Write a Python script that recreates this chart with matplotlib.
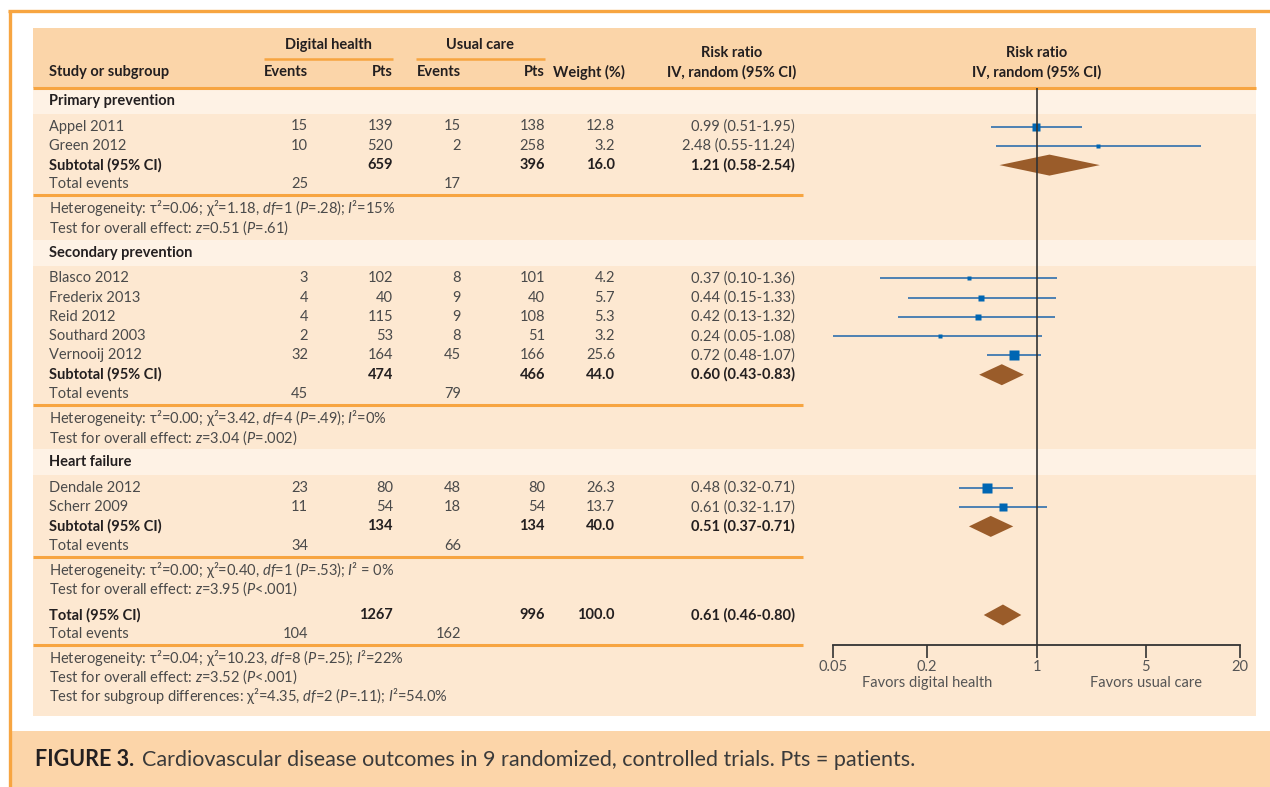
import matplotlib
matplotlib.use("Agg")
import matplotlib.pyplot as plt
from matplotlib.patches import Rectangle, Polygon
from matplotlib.ticker import NullLocator

plt.rcParams['font.family'] = ['Lato', 'DejaVu Sans']
plt.rcParams['mathtext.fontset'] = 'custom'
plt.rcParams['mathtext.rm'] = 'Lato'
plt.rcParams['mathtext.it'] = 'Lato:italic'
plt.rcParams['mathtext.bf'] = 'Lato:bold'

# ---- study level data ----
studies = ["Appel 2011", "Green 2012",
           "Blasco 2012", "Frederix 2013", "Reid 2012", "Southard 2003", "Vernooij 2012",
           "Dendale 2012", "Scherr 2009"]
dh_events = [15, 10, 3, 4, 4, 2, 32, 23, 11]
dh_pts = [139, 520, 102, 40, 115, 53, 164, 80, 54]
uc_events = [15, 2, 8, 9, 9, 8, 45, 48, 18]
uc_pts = [138, 258, 101, 40, 108, 51, 166, 80, 54]
weights = [12.8, 3.2, 4.2, 5.7, 5.3, 3.2, 25.6, 26.3, 13.7]
rr = [0.99, 2.48, 0.37, 0.44, 0.42, 0.24, 0.72, 0.48, 0.61]
rr_lo = [0.51, 0.55, 0.10, 0.15, 0.13, 0.05, 0.48, 0.32, 0.32]
rr_hi = [1.95, 11.24, 1.36, 1.33, 1.32, 1.08, 1.07, 0.71, 1.17]

# ---- subgroup data ----
groups = ["Primary prevention", "Secondary prevention", "Heart failure"]
group_sizes = [2, 5, 2]
sub_dh_pts = [659, 474, 134]
sub_uc_pts = [396, 466, 134]
sub_weight = [16.0, 44.0, 40.0]
sub_rr = [1.21, 0.60, 0.51]
sub_lo = [0.58, 0.43, 0.37]
sub_hi = [2.54, 0.83, 0.71]
sub_dh_events = [25, 45, 34]
sub_uc_events = [17, 79, 66]
het_text = [
    "Heterogeneity: τ²=0.06; χ²=1.18, $df$=1 ($P$=.28); $I$²=15%",
    "Heterogeneity: τ²=0.00; χ²=3.42, $df$=4 ($P$=.49); $I$²=0%",
    "Heterogeneity: τ²=0.00; χ²=0.40, $df$=1 ($P$=.53); $I$² = 0%",
]
effect_text = [
    "Test for overall effect: $z$=0.51 ($P$=.61)",
    "Test for overall effect: $z$=3.04 ($P$=.002)",
    "Test for overall effect: $z$=3.95 ($P$<.001)",
]

# ---- overall ----
tot_dh_pts, tot_uc_pts, tot_weight = 1267, 996, 100.0
tot_rr, tot_lo, tot_hi = 0.61, 0.46, 0.80
tot_dh_events, tot_uc_events = 104, 162
tot_notes = [
    "Heterogeneity: τ²=0.04; χ²=10.23, $df$=8 ($P$=.25); $I$²=22%",
    "Test for overall effect: $z$=3.52 ($P$<.001)",
    "Test for subgroup differences: χ²=4.35, $df$=2 ($P$=.11); $I$²=54.0%",
]

x_ticks = [0.05, 0.2, 1, 5, 20]
x_ticklabels = ["0.05", "0.2", "1", "5", "20"]

# ---- styling ----
ORANGE = '#f7a541'
HEAD_BG = '#fbd5a9'
BAND_BG = '#fef2e5'
ROW_BG = '#fde8d1'
CAPTION_BG = '#fcd5a9'
BLUE = '#0066b3'
CI_BLUE = '#2f6fae'
BROWN = '#9a5c2a'
TXT = '#4a4a4a'
DARK = '#231f20'
FS = 10.5

W, H = 1270, 787
PANEL_L, PANEL_R = 33, 1256
HEAD_TOP, HEAD_BOT = 28, 88
STEP = 19.3
COL_STUDY, COL_DHE, COL_DHP, COL_UCE, COL_UCP, COL_W, COL_RR = 49, 308, 393, 461, 545, 615, 795
LINE_R = 803
PLOT_L, PLOT_R = 833, 1240

fig = plt.figure(figsize=(W / 100, H / 100), dpi=100)
bg = fig.add_axes([0, 0, 1, 1])
bg.set_xlim(0, W)
bg.set_ylim(H, 0)
bg.axis('off')


def txt(x, y, s, ha='left', bold=False, color=None, size=FS):
    return bg.text(x, y, s, ha=ha, va='center', fontsize=size,
                   fontweight='bold' if bold else 'normal',
                   color=color or (DARK if bold else TXT))


def hline(y, x0=PANEL_L, x1=LINE_R, lw=2.2):
    bg.plot([x0, x1], [y, y], color=ORANGE, lw=lw, solid_capstyle='butt')


# outer frame and caption band
bg.add_patch(Rectangle((12, 731), W - 12, H - 731, color=CAPTION_BG, lw=0))
bg.plot([8, W], [11, 11], color=ORANGE, lw=2.4, solid_capstyle='butt')
bg.plot([10, 10], [11, H], color=ORANGE, lw=2.4, solid_capstyle='butt')

# ---- row layout ----
layout = []   # (kind, y, index)
y = HEAD_BOT
for g, n in enumerate(group_sizes):
    band_top = y
    layout.append(('band', band_top, g))
    y = band_top + 26 + 12.5
    start = sum(group_sizes[:g])
    for i in range(n):
        layout.append(('study', y, start + i))
        y += STEP
    layout.append(('subtotal', y, g))
    y += STEP
    layout.append(('events', y, g))
    y += 11
    layout.append(('line', y, g))
    y += 13
    layout.append(('het', y, g))
    y += STEP
    layout.append(('effect', y, g))
    y += 12
y += 14
total_y = y
total_events_y = y + STEP
axis_y = total_events_y + 10.5
notes_y = [axis_y + 13 + k * STEP for k in range(3)]
panel_bot = notes_y[-1] + 20

# backgrounds
bg.add_patch(Rectangle((PANEL_L, HEAD_TOP), PANEL_R - PANEL_L, HEAD_BOT - HEAD_TOP, color=HEAD_BG, lw=0))
bg.add_patch(Rectangle((PANEL_L, HEAD_BOT), PANEL_R - PANEL_L, panel_bot - HEAD_BOT, color=ROW_BG, lw=0))
for kind, yy, g in layout:
    if kind == 'band':
        bg.add_patch(Rectangle((PANEL_L, yy), PANEL_R - PANEL_L, 26, color=BAND_BG, lw=0))
hline(HEAD_BOT, PANEL_L, PANEL_R)

# header
txt((264 + 393) / 2, 45, "Digital health", ha='center', bold=True)
txt((416 + 545) / 2, 45, "Usual care", ha='center', bold=True)
hline(59, 264, 393, lw=1.8)
hline(59, 416, 545, lw=1.8)
txt(COL_STUDY, 72, "Study or subgroup", bold=True)
txt(COL_DHE, 72, "Events", ha='right', bold=True)
txt(COL_DHP, 72, "Pts", ha='right', bold=True)
txt(COL_UCE, 72, "Events", ha='right', bold=True)
txt(COL_UCP, 72, "Pts", ha='right', bold=True)
txt(625, 72, "Weight (%)", ha='right', bold=True)
txt(732, 53, "Risk ratio", ha='center', bold=True)
txt(732, 72, "IV, random (95% CI)", ha='center', bold=True)
txt(1036.5, 53, "Risk ratio", ha='center', bold=True)
txt(1036.5, 72, "IV, random (95% CI)", ha='center', bold=True)

# forest plot axes
fx = fig.add_axes([PLOT_L / W, 1 - axis_y / H, (PLOT_R - PLOT_L) / W, (axis_y - HEAD_BOT) / H])
fx.set_xscale('log')
fx.set_xlim(0.05, 20)
fx.set_ylim(axis_y, HEAD_BOT)
fx.patch.set_alpha(0)
for s in ['left', 'right', 'top']:
    fx.spines[s].set_visible(False)
fx.spines['bottom'].set_color('#333333')
fx.spines['bottom'].set_linewidth(1.3)
fx.set_xticks(x_ticks)
fx.set_xticklabels(x_ticklabels)
fx.xaxis.set_minor_locator(NullLocator())
fx.set_yticks([])
fx.tick_params(axis='x', direction='out', length=9, width=1.2, color='#333333',
               labelsize=FS, labelcolor='#555555', pad=2)
fx.axvline(1, color='#333333', lw=1.2, zorder=5)
fx.text(0.2, axis_y + 38, "Favors digital health", ha='center', va='center', fontsize=FS, color='#555555')
fx.text(5, axis_y + 38, "Favors usual care", ha='center', va='center', fontsize=FS, color='#555555')


def diamond(est, lo, hi, yy):
    fx.add_patch(Polygon([(lo, yy), (est, yy - 10.5), (hi, yy), (est, yy + 10.5)],
                         closed=True, facecolor=BROWN, edgecolor='none', zorder=3))


for kind, yy, i in layout:
    if kind == 'band':
        txt(COL_STUDY, yy + 13, groups[i], bold=True)
    elif kind == 'study':
        txt(COL_STUDY, yy, studies[i])
        txt(COL_DHE, yy, str(dh_events[i]), ha='right')
        txt(COL_DHP, yy, str(dh_pts[i]), ha='right')
        txt(COL_UCE, yy, str(uc_events[i]), ha='right')
        txt(COL_UCP, yy, str(uc_pts[i]), ha='right')
        txt(COL_W, yy, f"{weights[i]:.1f}", ha='right')
        txt(COL_RR, yy, f"{rr[i]:.2f} ({rr_lo[i]:.2f}-{rr_hi[i]:.2f})", ha='right')
        fx.plot([rr_lo[i], rr_hi[i]], [yy, yy], color=CI_BLUE, lw=1.2, zorder=2, solid_capstyle='butt')
        # square side grows with study weight
        side_px = 1.7 * weights[i] ** 0.5 + 1.5
        fx.plot([rr[i]], [yy], marker='s', ms=side_px * 0.72, color=BLUE, mec='none', zorder=4)
    elif kind == 'subtotal':
        txt(COL_STUDY, yy, "Subtotal (95% CI)", bold=True)
        txt(COL_DHP, yy, str(sub_dh_pts[i]), ha='right', bold=True)
        txt(COL_UCP, yy, str(sub_uc_pts[i]), ha='right', bold=True)
        txt(COL_W, yy, f"{sub_weight[i]:.1f}", ha='right', bold=True)
        txt(COL_RR, yy, f"{sub_rr[i]:.2f} ({sub_lo[i]:.2f}-{sub_hi[i]:.2f})", ha='right', bold=True)
        diamond(sub_rr[i], sub_lo[i], sub_hi[i], yy)
    elif kind == 'events':
        txt(COL_STUDY, yy, "Total events")
        txt(COL_DHE, yy, str(sub_dh_events[i]), ha='right')
        txt(COL_UCE, yy, str(sub_uc_events[i]), ha='right')
    elif kind == 'line':
        hline(yy)
    elif kind == 'het':
        txt(COL_STUDY, yy, het_text[i])
    elif kind == 'effect':
        txt(COL_STUDY, yy, effect_text[i])

# overall
txt(COL_STUDY, total_y, "Total (95% CI)", bold=True)
txt(COL_DHP, total_y, str(tot_dh_pts), ha='right', bold=True)
txt(COL_UCP, total_y, str(tot_uc_pts), ha='right', bold=True)
txt(COL_W, total_y, f"{tot_weight:.1f}", ha='right', bold=True)
txt(COL_RR, total_y, f"{tot_rr:.2f} ({tot_lo:.2f}-{tot_hi:.2f})", ha='right', bold=True)
diamond(tot_rr, tot_lo, tot_hi, total_y)
txt(COL_STUDY, total_events_y, "Total events")
txt(COL_DHE, total_events_y, str(tot_dh_events), ha='right')
txt(COL_UCE, total_events_y, str(tot_uc_events), ha='right')
hline(axis_y)
for yy, s in zip(notes_y, tot_notes):
    txt(COL_STUDY, yy, s)

# caption
cap = txt(35, 760, "FIGURE 3.", bold=True, size=15.5)
renderer = fig.canvas.get_renderer()
bb = cap.get_window_extent(renderer)
fig.text((bb.x1 + 8) / W, 1 - 760 / H,
         "Cardiovascular disease outcomes in 9 randomized, controlled trials. Pts = patients.",
         ha='left', va='center', fontsize=15.5, color='#3a3a3a')

fig.savefig("out.png", dpi=100)
